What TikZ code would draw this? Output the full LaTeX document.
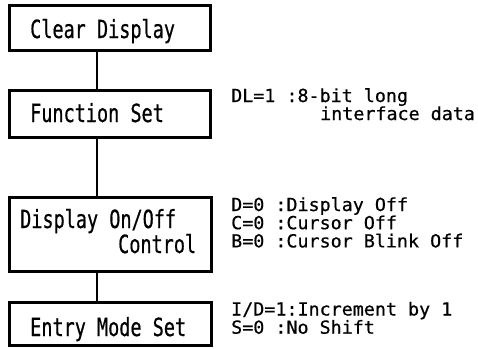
\documentclass[tikz,border=0pt]{standalone}
\usepackage{fontspec}
\newfontfamily\boxfont[FakeStretch=0.74,FakeBold=0.6]{DejaVu Sans Mono}
\newfontfamily\notefont[FakeStretch=1.02,FakeBold=0.6]{DejaVu Sans Mono}
\tikzset{
  stepbox/.style={draw, line width=3pt, inner sep=0pt},
  boxtext/.style={anchor=base west, inner sep=0pt, font=\boxfont\fontsize{25}{25}\selectfont},
  notetext/.style={anchor=base west, inner sep=0pt, font=\notefont\fontsize{18}{16}\selectfont},
  link/.style={line width=2pt}
}
\begin{document}
\begin{tikzpicture}[x=1pt,y=-1pt]
\useasboundingbox (0,0) rectangle (478,348);
% boxes
\node[stepbox, minimum width=201pt, minimum height=45pt] (clear) at (109.5,27.5) {};
\node[stepbox, minimum width=201pt, minimum height=47pt] (func) at (109.5,113.5) {};
\node[stepbox, minimum width=202pt, minimum height=74pt] (disp) at (110,234) {};
\node[stepbox, minimum width=202pt, minimum height=43pt] (entry) at (110,324) {};
% box texts
\node[boxtext] (clearT) at (30,38) {Clear Display};
\node[boxtext] (funcT) at (30,122) {Function Set};
\node[boxtext] (dispT1) at (20,228) {Display On/Off};
\node[boxtext] (dispT2) at (118,253) {Control};
\node[boxtext] (entryT) at (30,336) {Entry Mode Set};
% connectors
\coordinate (lx) at (97,0);
\draw[link] (clear.south -| lx) -- (func.north -| lx);
\draw[link] (func.south -| lx) -- (disp.north -| lx);
\draw[link] (disp.south -| lx) -- (entry.north -| lx);
% notes
\node[notetext] (n1) at (231,102) {DL=1 :8-bit long};
\node[notetext] (n2) at (320,120) {interface data};
\node[notetext] (n3) at (231,211) {D=0 :Display Off};
\node[notetext] (n4) at (231,229.2) {C=0 :Cursor Off};
\node[notetext] (n5) at (231,247.4) {B=0 :Cursor Blink Off};
\node[notetext] (n6) at (231,315.5) {I/D=1:Increment by 1};
\node[notetext] (n7) at (231,333.7) {S=0 :No Shift};
\end{tikzpicture}
\end{document}
